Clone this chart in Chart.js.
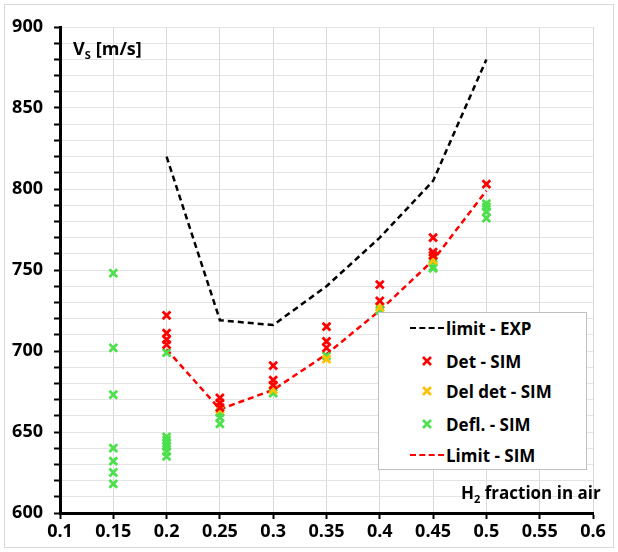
<!DOCTYPE html>
<html>
<head>
<meta charset="utf-8">
<script src="https://cdn.jsdelivr.net/npm/chart.js@4/dist/chart.umd.min.js"></script>
<style>
  html, body { margin: 0; padding: 0; background: #fff; }
  #wrap { position: relative; width: 618px; height: 552px; }
  #frame { position: absolute; left: 4px; top: 4px; right: 4px; bottom: 4px; border: 1px solid #d9d9d9; pointer-events: none; }
  #legend {
    position: absolute; left: 378px; top: 312px; width: 207px; height: 156px;
    background: #fff; border: 1px solid #bfbfbf; font: bold 17px "Open Sans", sans-serif; color: #000;
  }
  .row { position: absolute; left: 0; height: 24px; display: flex; align-items: center; }
  .sym { width: 34px; margin-left: 31px; margin-right: 2px; display: flex; justify-content: center; align-items: center; }
  .dash { width: 34px; height: 0; border-top: 2.5px dashed; }
</style>
</head>
<body>
<div id="wrap">
  <canvas id="chart" width="618" height="552"></canvas>
  <div id="frame"></div>
  <div id="legend"></div>
</div>
<script>
// experimental limit
const expX = [0.2, 0.25, 0.3, 0.35, 0.4, 0.45, 0.5];
const expY = [820, 719, 716, 740, 770, 805, 880];

// simulated detonations
const detX = [0.2, 0.2, 0.2, 0.2, 0.25, 0.25, 0.25, 0.3, 0.3, 0.3, 0.35, 0.35, 0.35, 0.4, 0.4, 0.45, 0.45, 0.45, 0.5];
const detY = [722, 711, 707, 704, 671, 668, 665, 691, 682, 679, 715, 706, 702, 741, 731, 770, 761, 759, 803];

// delayed detonations
const delX = [0.25, 0.3, 0.35, 0.4, 0.45];
const delY = [664, 676, 695, 727, 756];

// deflagrations
const deflX = [0.15, 0.15, 0.15, 0.15, 0.15, 0.15, 0.15,
  0.2, 0.2, 0.2, 0.2, 0.2, 0.2, 0.2,
  0.25, 0.25, 0.25, 0.3, 0.35, 0.4, 0.4,
  0.45, 0.45, 0.45, 0.45, 0.5, 0.5, 0.5, 0.5];
const deflY = [748, 702, 673, 640, 632, 625, 618,
  699, 647, 645, 643, 641, 638, 635,
  662, 659, 655, 674, 697, 727, 725,
  757, 755, 752, 751, 791, 789, 786, 782];

// simulated limit
const simX = [0.2, 0.25, 0.3, 0.35, 0.4, 0.45, 0.5];
const simY = [701, 664, 676, 698, 725, 756, 799];

const RED = "#ff0000";
const ORANGE = "#ffc000";
const GREEN = "#4ce04c";
const FONT = "\"Open Sans\", sans-serif";

const pts = (xs, ys) => xs.map((x, i) => ({ x: x, y: ys[i] }));

const lineSet = (label, xs, ys, color) => ({
  label, type: "line", data: pts(xs, ys), borderColor: color, borderWidth: 2.5,
  borderDash: [6, 4], pointRadius: 0, fill: false, tension: 0, isLine: true
});
const crossSet = (label, xs, ys, color) => ({
  label, type: "scatter", data: pts(xs, ys), borderColor: color, backgroundColor: color,
  pointStyle: "crossRot", pointRadius: 5.5, pointBorderWidth: 2.8, showLine: false
});

const datasets = [
  lineSet("limit - EXP", expX, expY, "#000"),
  crossSet("Det - SIM", detX, detY, RED),
  crossSet("Del det - SIM", delX, delY, ORANGE),
  crossSet("Defl. - SIM", deflX, deflY, GREEN),
  lineSet("Limit - SIM", simX, simY, RED)
];

// subscripted axis titles drawn inside the plot area
const axisTitles = {
  id: "axisTitles",
  afterDraw(chart) {
    const c = chart.ctx;
    c.save();
    c.fillStyle = "#000";
    c.textBaseline = "alphabetic";
    c.font = "bold 18px " + FONT;
    c.fillText("V", 73, 55);
    let w = c.measureText("V").width;
    c.font = "bold 11px " + FONT;
    c.fillText("S", 73 + w, 59);
    w += c.measureText("S").width + 5;
    c.font = "bold 18px " + FONT;
    c.fillText("[m/s]", 73 + w, 55);

    c.font = "bold 17px " + FONT;
    c.fillText("H", 461, 499);
    let w2 = c.measureText("H").width;
    c.font = "bold 11px " + FONT;
    c.fillText("2", 461 + w2, 503);
    w2 += c.measureText("2").width;
    c.font = "bold 17px " + FONT;
    c.fillText(" fraction in air", 461 + w2, 499);
    c.restore();
  }
};

const tickFont = { family: FONT, size: 18, weight: "bold" };

new Chart(document.getElementById("chart").getContext("2d"), {
  type: "scatter",
  data: { datasets },
  options: {
    responsive: false,
    animation: false,
    layout: { padding: { left: 0, right: 25, top: 27, bottom: 0 } },
    plugins: { legend: { display: false }, tooltip: { enabled: false } },
    scales: {
      x: {
        type: "linear", min: 0.1, max: 0.6,
        afterFit: (s) => { s.height = 39; },
        ticks: {
          stepSize: 0.05, color: "#000", font: tickFont, padding: 2,
          autoSkip: false, maxRotation: 0,
          callback: (v) => String(Number(v.toFixed(2)))
        },
        grid: { color: "#d9d9d9", lineWidth: 1, tickColor: "#000", tickLength: 6, tickWidth: 2 },
        border: { color: "#000", width: 3 }
      },
      y: {
        type: "linear", min: 600, max: 900,
        afterFit: (s) => { s.width = 60; },
        ticks: {
          stepSize: 10, color: "#000", font: tickFont, padding: 11, autoSkip: false,
          callback: (v) => (v % 50 === 0 ? String(v) : "")
        },
        grid: { color: "#e3e3e3", lineWidth: 1, tickColor: "#000", tickLength: 6, tickWidth: 2 },
        border: { color: "#000", width: 3 }
      }
    }
  },
  plugins: [axisTitles]
});

// legend box built from the datasets
const legendEl = document.getElementById("legend");
const rowTops = [3, 36, 66, 99, 130];
datasets.forEach((ds, i) => {
  const row = document.createElement("div");
  row.className = "row";
  row.style.top = rowTops[i] + "px";
  const sym = ds.isLine
    ? `<div class="dash" style="border-color:${ds.borderColor}"></div>`
    : `<svg width="12" height="12"><path d="M2 2L10 10M10 2L2 10" stroke="${ds.borderColor}" stroke-width="2.6"/></svg>`;
  row.innerHTML = `<div class="sym">${sym}</div><span>${ds.label}</span>`;
  legendEl.appendChild(row);
});
</script>
</body>
</html>
